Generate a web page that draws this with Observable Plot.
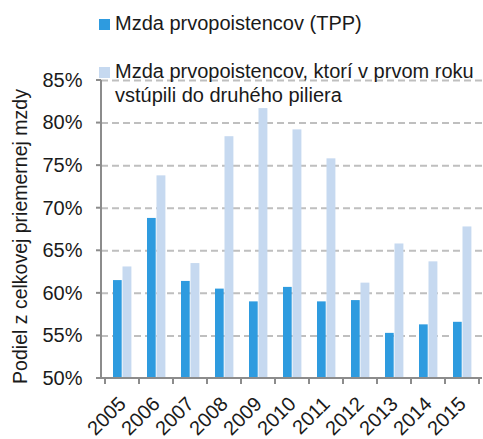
<!DOCTYPE html>
<html><head><meta charset="utf-8">
<script src="https://cdn.jsdelivr.net/npm/d3@7"></script>
<script src="https://cdn.jsdelivr.net/npm/@observablehq/plot@0.6"></script>
<style>
body{margin:0;background:#fff;font-family:"Liberation Sans",Arial,sans-serif;}
#wrap{position:relative;width:483px;height:439px;overflow:hidden;}
#legend{position:absolute;left:0;top:0;width:483px;height:120px;font-size:20px;color:#1a1a1a;}
.sw{position:absolute;width:11px;height:11px;}
.lab{position:absolute;left:115px;line-height:24px;width:366px;white-space:normal;}
</style></head><body>
<div id="wrap"><div id="chart"></div><div id="legend"></div></div>
<script>
const years = ["2005","2006","2007","2008","2009","2010","2011","2012","2013","2014","2015"];
const tppValues = [61.5,68.8,61.4,60.5,59.0,60.7,59.0,59.15,55.3,56.3,56.6];
const secondPillarValues = [63.1,73.8,63.5,78.4,81.7,79.2,75.8,61.2,65.8,63.7,67.8];
const seriesLabels = ["Mzda prvopoistencov (TPP)", "Mzda prvopoistencov, ktorí v prvom roku vstúpili do druhého piliera"];
const seriesColors = ["#2e9bdf", "#c6d9f0"];
const yTicks = [50,55,60,65,70,75,80,85];
const yTitle = "Podiel z celkovej priemernej mzdy";

const rows = years.map((year, i) => ({year, tpp: tppValues[i], pillar: secondPillarValues[i]}));
const axisGray = "#8c8c8c";

function axisLines(index, scales, values, dimensions) {
  const {marginLeft, marginRight, width} = dimensions;
  const x = scales.x, y = scales.y;
  const step = x(years[1]) - x(years[0]);
  const bounds = years.map(d => x(d)).concat([x(years[years.length - 1]) + step]);
  const yBase = y(yTicks[0]), yTop = y(yTicks[yTicks.length - 1]);
  const g = d3.create("svg:g").attr("stroke", axisGray).attr("stroke-width", 2).attr("fill", "none");
  g.append("line").attr("x1", marginLeft).attr("x2", marginLeft).attr("y1", yTop).attr("y2", yBase);
  g.append("line").attr("x1", marginLeft - 5).attr("x2", width - marginRight).attr("y1", yBase).attr("y2", yBase);
  for (const t of yTicks) {
    g.append("line").attr("x1", marginLeft - 5).attr("x2", marginLeft).attr("y1", y(t)).attr("y2", y(t));
  }
  for (const b of bounds) {
    g.append("line").attr("x1", b).attr("x2", b).attr("y1", yBase).attr("y2", yBase + 6);
  }
  return g.node();
}

const chart = Plot.plot({
  width: 483,
  height: 439,
  marginLeft: 101,
  marginRight: 1,
  marginTop: 80,
  marginBottom: 61,
  style: {fontFamily: "'Liberation Sans', Arial, sans-serif", fontSize: "20px", color: "#1a1a1a", background: "#fff"},
  x: {domain: years, padding: 0},
  y: {domain: [yTicks[0], yTicks[yTicks.length - 1]]},
  marks: [
    Plot.ruleY(yTicks.slice(1), {stroke: "#bfbfbf", strokeWidth: 2, strokeDasharray: "7,4"}),
    Plot.barY(rows, {x: "year", y1: yTicks[0], y2: "tpp", fill: seriesColors[0], insetLeft: 8, insetRight: 17.3}),
    Plot.barY(rows, {x: "year", y1: yTicks[0], y2: "pillar", fill: seriesColors[1], insetLeft: 17.5, insetRight: 7.6}),
    Plot.axisY({ticks: yTicks, tickFormat: d => d + "%", tickSize: 0, tickPadding: 19, label: null, fontSize: 20, fill: "#1a1a1a"}),
    Plot.axisX({tickSize: 0, tickRotate: -45, tickPadding: 22, textAnchor: "end", lineAnchor: "middle", label: null, fontSize: 20, fill: "#1a1a1a"}),
    Plot.text([yTitle], {frameAnchor: "left", textAnchor: "middle", lineAnchor: "middle", rotate: -90, dx: -81, dy: 7, fontSize: 19.5, fill: "#1a1a1a"}),
    axisLines
  ]
});
document.getElementById("chart").appendChild(chart);

const legend = document.getElementById("legend");
const tops = [[19, 10.5], [67, 59]];
seriesLabels.forEach((label, i) => {
  const sw = document.createElement("div");
  sw.className = "sw";
  sw.style.left = "99px";
  sw.style.top = tops[i][0] + "px";
  sw.style.background = seriesColors[i];
  legend.appendChild(sw);
  const lab = document.createElement("div");
  lab.className = "lab";
  lab.style.top = tops[i][1] + "px";
  lab.textContent = label;
  legend.appendChild(lab);
});
</script>
</body></html>
